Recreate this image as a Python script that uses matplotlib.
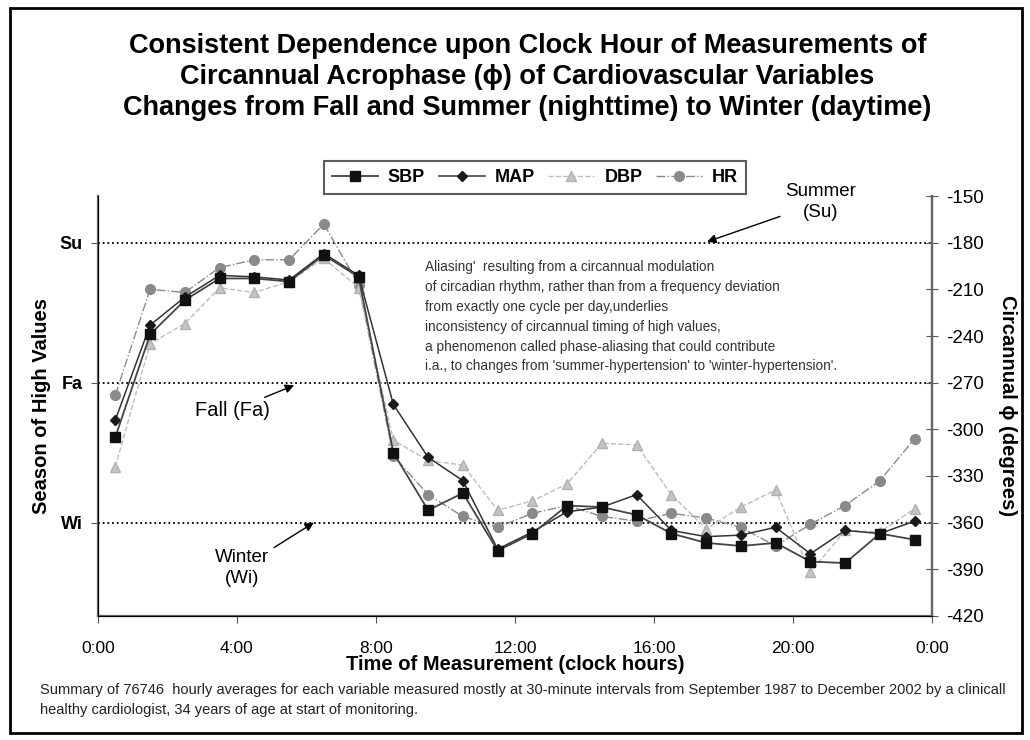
import numpy as np
import matplotlib

matplotlib.use('Agg')
import matplotlib.pyplot as plt
from matplotlib.patches import Rectangle

plt.rcParams['font.family'] = ['Liberation Sans', 'DejaVu Sans']
plt.rcParams['axes.unicode_minus'] = False

# clock hours (mid-hour) and circannual acrophase (degrees)
hours = [0.5, 1.5, 2.5, 3.5, 4.5, 5.5, 6.5, 7.5, 8.5, 9.5, 10.5, 11.5,
         12.5, 13.5, 14.5, 15.5, 16.5, 17.5, 18.5, 19.5, 20.5, 21.5, 22.5, 23.5]
sbp = [-305, -239, -217, -203, -203, -205, -188, -202, -315, -352, -341, -378,
       -367, -349, -350, -355, -367, -373, -375, -373, -385, -386, -367, -371]
map_ = [-294, -233, -215, -201, -202, -204, -187, -201, -284, -318, -333, -377,
        -366, -353, -350, -342, -365, -369, -368, -363, -380, -365, -367, -359]
dbp = [-324, -245, -232, -209, -212, -205, -190, -209, -307, -320, -323, -352,
       -346, -335, -309, -310, -342, -364, -350, -339, -392, -365, -366, -351]
hr = [-278, -210, -212, -196, -191, -191, -168, -207, -317, -342, -356, -363,
      -354, -349, -356, -359, -354, -357, -363, -375, -361, -349, -333, -306]

season_ticks = [-180, -270, -360]
season_labels = ["Su", "Fa", "Wi"]
hour_ticks = [0, 4, 8, 12, 16, 20, 24]
hour_labels = ["0:00", "4:00", "8:00", "12:00", "16:00", "20:00", "0:00"]
deg_ticks = list(range(-150, -421, -30))

fig = plt.figure(figsize=(10.3, 7.4), dpi=100)
ax = fig.add_axes([0.0951, 0.1676, 0.8098, 0.5675])
ax.set_xlim(0, 24)
ax.set_ylim(-420, -150)

# season reference lines
for yv in season_ticks:
    ax.axhline(yv, color="black", linestyle=(0, (1, 1.6)), linewidth=1.3, zorder=1)

ax.plot(hours, hr, color="#8a8a8a", linestyle="-.", linewidth=1.0, marker="o",
        markersize=7, markerfacecolor="#8a8a8a", markeredgecolor="#8a8a8a", label="HR", zorder=2)
ax.plot(hours, dbp, color="#bdbdbd", linestyle="--", linewidth=1.0, marker="^",
        markersize=7, markerfacecolor="#c4c4c4", markeredgecolor="#b0b0b0", label="DBP", zorder=3)
ax.plot(hours, map_, color="#333333", linestyle="-", linewidth=1.1, marker="D",
        markersize=5, markerfacecolor="#1a1a1a", markeredgecolor="#1a1a1a", label="MAP", zorder=4)
ax.plot(hours, sbp, color="#444444", linestyle="-", linewidth=1.3, marker="s",
        markersize=7, markerfacecolor="#111111", markeredgecolor="#111111", label="SBP", zorder=5)

ax.set_xticks(hour_ticks, hour_labels, fontsize=12.5)
ax.set_yticks(season_ticks, season_labels, fontsize=13, fontweight="bold")
ax.tick_params(axis="x", direction="out", length=5, color="#555555", pad=13)
ax.tick_params(axis="y", direction="out", length=5, color="#555555", pad=6)
ax.spines["top"].set_visible(False)
for s in ("left", "bottom", "right"):
    ax.spines[s].set_color("#666666")
    ax.spines[s].set_linewidth(1.6)

ax2 = ax.twinx()
ax2.set_ylim(-420, -150)
ax2.set_yticks(deg_ticks, [str(t) for t in deg_ticks], fontsize=13.5)
ax2.tick_params(axis="y", direction="inout", length=8, color="#555555", pad=6)
ax2.spines["top"].set_visible(False)
ax2.spines["right"].set_color("#666666")
ax2.spines["right"].set_linewidth(1.6)
ax2.set_ylabel("Circannual \u03d5 (degrees)", fontsize=14.5, fontweight="bold",
               rotation=270, labelpad=24)

ax.set_ylabel("Season of High Values", fontsize=14.5, fontweight="bold", labelpad=6)
ax.set_xlabel("Time of Measurement (clock hours)", fontsize=14.5, fontweight="bold", labelpad=-1)

# legend
handles, labels = ax.get_legend_handles_labels()
order = [3, 2, 1, 0]
leg = ax.legend([handles[i] for i in order], [labels[i] for i in order],
                loc="lower center", bbox_to_anchor=(0.524, 1.0), ncol=4,
                prop={"size": 13, "weight": "bold"},
                frameon=True, fancybox=False, edgecolor="#333333", handlelength=2.55,
                columnspacing=0.75, handletextpad=0.55, borderpad=0.45, borderaxespad=0.1)
leg.get_frame().set_linewidth(1.5)

arrow = dict(arrowstyle="-|>", color="black", lw=1.0, mutation_scale=13)
ax.annotate("Summer\n(Su)", xy=(17.45, -180), xytext=(20.8, -154), fontsize=13.5,
            ha="center", va="center", arrowprops=arrow, annotation_clip=False,
            linespacing=1.3)
ax.annotate("Fall (Fa)", xy=(5.72, -271), xytext=(3.86, -288), fontsize=14.5,
            ha="center", va="center", arrowprops=arrow)
ax.annotate("Winter\n(Wi)", xy=(6.28, -359), xytext=(4.14, -389), fontsize=13.5,
            ha="center", va="center", arrowprops=arrow, linespacing=1.3)

note = ("Aliasing'  resulting from a circannual modulation\n"
        "of circadian rhythm, rather than from a frequency deviation\n"
        "from exactly one cycle per day,underlies\n"
        "inconsistency of circannual timing of high values,\n"
        "a phenomenon called phase-aliasing that could contribute\n"
        "i.a., to changes from 'summer-hypertension' to 'winter-hypertension'.")
ax.text(9.41, -191, note, fontsize=9.8, color="#333333", ha="left", va="top", linespacing=1.54)

fig.text(0.512, 1 - 77 / 740, "Consistent Dependence upon Clock Hour of Measurements of\n"
         "Circannual Acrophase (\u03d5) of Cardiovascular Variables\n"
         "Changes from Fall and Summer (nighttime) to Winter (daytime)",
         fontsize=19.5, fontweight="bold", ha="center", va="center", linespacing=1.24)

fig.text(0.039, 1 - 683 / 740, "Summary of 76746  hourly averages for each variable measured mostly at 30-minute "
         "intervals from September 1987 to December 2002 by a clinicall\n"
         "healthy cardiologist, 34 years of age at start of monitoring.",
         fontsize=10.5, ha="left", va="top", linespacing=1.55, color="#222222")

fig.patches.append(Rectangle((0.0097, 0.0095), 0.9825, 0.98, transform=fig.transFigure,
                             fill=False, edgecolor="black", linewidth=2))

fig.savefig("out.png", dpi=100)
